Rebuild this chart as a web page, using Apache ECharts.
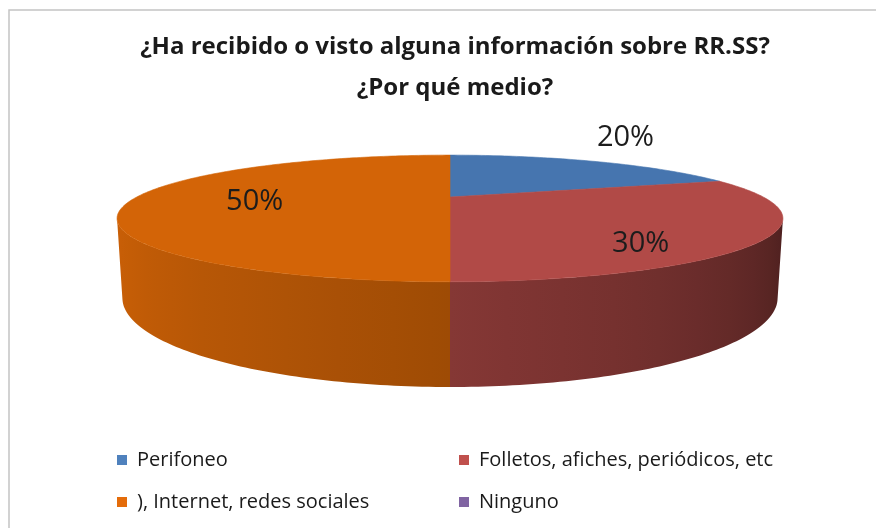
<!DOCTYPE html>
<html>
<head>
<meta charset="utf-8">
<script src="https://cdn.jsdelivr.net/npm/echarts@6/dist/echarts.min.js"></script>
<style>
  html, body { margin: 0; padding: 0; background: #fff; }
  #main { width: 876px; height: 528px; }
</style>
</head>
<body>
<div id="main"></div>
<script>
// datos
const categories = ['Perifoneo', 'Folletos, afiches, periódicos, etc', '), Internet, redes sociales', 'Ninguno']
const values = [20, 30, 50, 0]
const legendLeft = ['Perifoneo', '), Internet, redes sociales']
const legendRight = ['Folletos, afiches, periódicos, etc', 'Ninguno']

// estilos
const legendColors = ['#4F81BD', '#C0504D', '#E46C0A', '#8064A2']
const faceColors = ['#4675AF', '#B14A47', '#D36407', '#7A5F9A']
const labelRadius = [1.29, 0.6, 0.63, 0.6]
const labelShift = [[0, -16], [18, 24], [2, 5], [0, 0]]

// proyeccion 3D (perspectiva tipo Excel)
const CX = 450, CY = 197, F = 910, D = 2.905, SE = 0.179, CE = 0.984, T = 0.2346
function proj (a, r, z) {
  const u = r * Math.sin(a), v = r * Math.cos(a)
  const depth = D + v * CE - z * SE
  return [CX + F * u / depth, CY - F * (v * SE + z * CE) / depth]
}
const visLo = Math.acos(-1 / (D * CE))
const visHi = 2 * Math.PI - visLo

function shade (hex, k) {
  const n = parseInt(hex.slice(1), 16)
  const c = [(n >> 16) & 255, (n >> 8) & 255, n & 255].map(x => Math.round(Math.min(255, x * k)))
  return 'rgb(' + c.join(',') + ')'
}
function brightness (a) {
  const d = a * 180 / Math.PI - 180
  return 0.75 + 0.00386 * d - 0.0000122 * d * d
}

const total = values.reduce((s, v) => s + v, 0)
const starts = []
values.reduce((s, v, i) => { starts[i] = s; return s + v }, 0)

function renderSlice (params, api) {
  const i = params.seriesIndex
  const v = api.value(0)
  const children = []
  if (!v) return { type: 'group', children }
  const a0 = starts[i] / total * 2 * Math.PI
  const a1 = (starts[i] + v) / total * 2 * Math.PI
  const color = faceColors[i]

  // lateral visible
  const s0 = Math.max(a0, visLo), s1 = Math.min(a1, visHi)
  if (s1 > s0) {
    const n = 80
    const topPts = [], botPts = []
    for (let k = 0; k <= n; k++) {
      const a = s0 + (s1 - s0) * k / n
      topPts.push(proj(a, 1, 0))
      botPts.push(proj(a, 1, -T))
    }
    const xMin = Math.min(topPts[0][0], topPts[n][0])
    const xMax = Math.max(topPts[0][0], topPts[n][0])
    const stops = []
    for (let k = 0; k <= 10; k++) {
      const a = s0 + (s1 - s0) * k / 10
      const x = proj(a, 1, 0)[0]
      stops.push({ offset: (x - xMin) / (xMax - xMin), color: shade(color, brightness(a)) })
    }
    stops.sort((p, q) => p.offset - q.offset)
    children.push({
      type: 'polygon',
      shape: { points: topPts.concat(botPts.reverse()) },
      style: {
        fill: { type: 'linear', x: xMin, y: 0, x2: xMax, y2: 0, global: true, colorStops: stops },
        stroke: null
      }
    })
  }

  // cara superior
  const pts = [proj(0, 0, 0)]
  const m = Math.max(10, Math.round((a1 - a0) * 60))
  for (let k = 0; k <= m; k++) pts.push(proj(a0 + (a1 - a0) * k / m, 1, 0))
  children.push({
    type: 'polygon',
    shape: { points: pts },
    style: { fill: color, stroke: color, lineWidth: 0.6 }
  })

  // etiqueta
  const am = (a0 + a1) / 2
  const p = proj(am, labelRadius[i], 0)
  children.push({
    type: 'text',
    z2: 10,
    style: {
      text: Math.round(v / total * 100) + '%',
      x: p[0] + labelShift[i][0],
      y: p[1] + labelShift[i][1],
      align: 'center',
      verticalAlign: 'middle',
      font: '29px "Open Sans"',
      fill: '#1c1c1c'
    }
  })
  return { type: 'group', children }
}

const legendBase = {
  orient: 'vertical',
  top: 450,
  itemGap: 22,
  itemWidth: 10,
  itemHeight: 10,
  icon: 'rect',
  padding: 0,
  selectedMode: false,
  textStyle: { fontFamily: 'Open Sans', fontSize: 20, lineHeight: 20, color: '#1a1a1a', padding: [0, 0, 0, 5] }
}

let myChart = echarts.init(document.getElementById('main'))
myChart.setOption({
  animation: false,
  title: {
    text: '¿Ha recibido o visto alguna información sobre RR.SS?\n¿Por qué medio?',
    left: 450,
    top: 22,
    textAlign: 'center',
    textStyle: {
      fontFamily: 'Open Sans',
      fontWeight: 'bold',
      fontSize: 24,
      lineHeight: 41,
      color: '#1a1a1a'
    }
  },
  graphic: [{
    type: 'rect',
    shape: { x: 9, y: 10, width: 900, height: 600 },
    style: { fill: null, stroke: '#c4c4c4', lineWidth: 1.5 },
    silent: true
  }],
  legend: [
    Object.assign({}, legendBase, { left: 117, data: legendLeft }),
    Object.assign({}, legendBase, { left: 459, data: legendRight })
  ],
  series: categories.map((name, i) => ({
    name: name,
    type: 'custom',
    coordinateSystem: 'none',
    renderItem: renderSlice,
    itemStyle: { color: legendColors[i] },
    data: [[values[i]]]
  }))
})
</script>
</body>
</html>
